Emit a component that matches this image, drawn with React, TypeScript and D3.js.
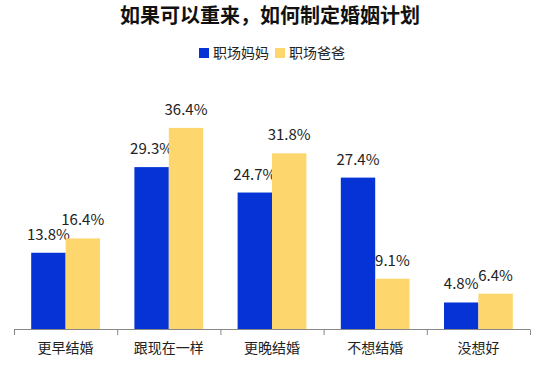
import React from "react";
import * as d3 from "d3";

const title = "如果可以重来，如何制定婚姻计划";
const categories = ["更早结婚", "跟现在一样", "更晚结婚", "不想结婚", "没想好"];
const seriesNames = ["职场妈妈", "职场爸爸"];
const moms = [13.8, 29.3, 24.7, 27.4, 4.8];
const dads = [16.4, 36.4, 31.8, 9.1, 6.4];
const colors = ["#0533D6", "#FDD66E"];

const W = 538;
const H = 365;
const FONT = "'Noto Sans CJK SC', 'Noto Sans', sans-serif";

export default function App() {
  const values = [moms, dads];
  const x0 = d3.scaleBand<string>().domain(categories).range([14, 530]).paddingInner(0).paddingOuter(0);
  const x1 = d3
    .scaleBand<string>()
    .domain(seriesNames)
    .range([0, x0.bandwidth()])
    .paddingInner(0)
    .paddingOuter(0.5);
  const y = d3.scaleLinear().domain([0, 40]).range([329, 108]);
  const boundaries = categories.map((c) => x0(c) as number).concat([530]);

  return (
    <svg
      width={W}
      height={H}
      style={{ position: "absolute", left: 0, top: 0, background: "#fff" }}
      fontFamily={FONT}
    >
      <text x={270} y={23} textAnchor="middle" fontSize={20} fontWeight="bold" fill="#111">
        {title}
      </text>
      {/* legend */}
      <g>
        <rect x={199} y={48} width={10} height={10} fill={colors[0]} />
        <text x={213} y={58} fontSize={14} fill="#222">
          {seriesNames[0]}
        </text>
        <rect x={275} y={48} width={10} height={10} fill={colors[1]} />
        <text x={289} y={58} fontSize={14} fill="#222">
          {seriesNames[1]}
        </text>
      </g>
      {/* bars */}
      {categories.map((c, i) => (
        <g key={c} transform={`translate(${x0(c)},0)`}>
          {seriesNames.map((s, j) => {
            const v = values[j][i];
            const bx = x1(s) as number;
            return (
              <g key={s}>
                <rect x={bx} y={y(v)} width={x1.bandwidth()} height={y(0) - y(v)} fill={colors[j]} />
                <text
                  x={bx + x1.bandwidth() / 2}
                  y={y(v) - 13}
                  textAnchor="middle"
                  fontSize={15}
                  fill="#222"
                >
                  {v.toFixed(1)}%
                </text>
              </g>
            );
          })}
        </g>
      ))}
      {/* axis */}
      <line x1={14} x2={530} y1={329.5} y2={329.5} stroke="#888" strokeWidth={1} />
      {boundaries.map((b, i) => (
        <line key={i} x1={b + 0.5} x2={b + 0.5} y1={329.5} y2={335} stroke="#888" strokeWidth={1} />
      ))}
      {categories.map((c) => (
        <text
          key={c}
          x={(x0(c) as number) + x0.bandwidth() / 2}
          y={353}
          textAnchor="middle"
          fontSize={14}
          fill="#222"
        >
          {c}
        </text>
      ))}
    </svg>
  );
}
